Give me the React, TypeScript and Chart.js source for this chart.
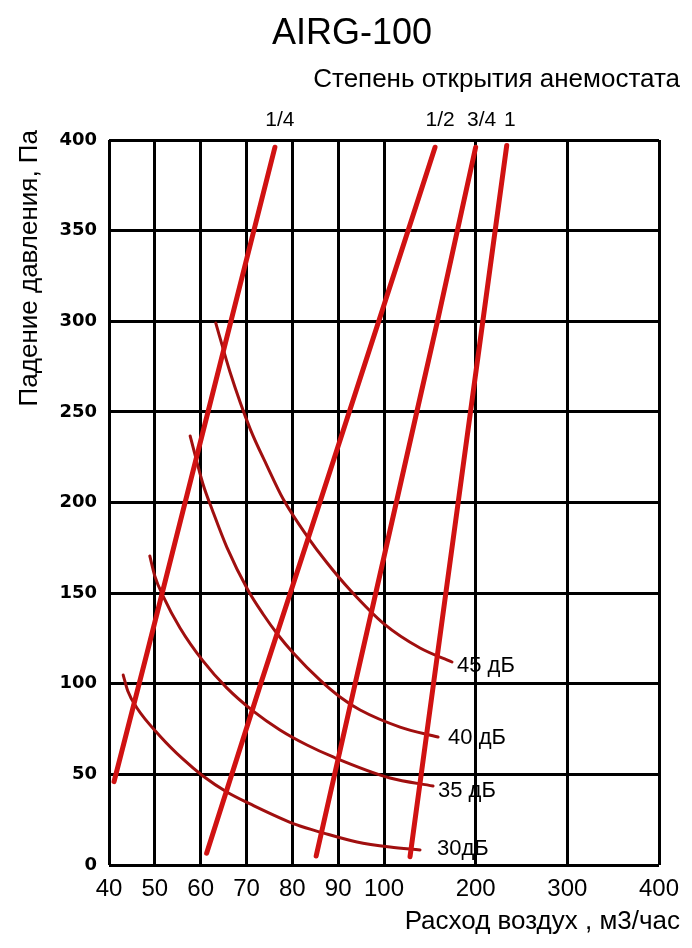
import React, { useEffect, useRef } from 'react';
import { Chart, LinearScale, registerables } from 'chart.js';

// ---------- data ----------
const TITLE = 'AIRG-100';
const SUBTITLE = 'Степень открытия анемостата';
const X_TITLE = 'Расход воздух , м3/час';
const Y_TITLE = 'Падение давления, Па';

const X_TICK_VALUES = [40, 50, 60, 70, 80, 90, 100, 200, 300, 400];
const Y_MIN = 0;
const Y_MAX = 400;
const Y_STEP = 50;

const OPENING_LABELS = ['1/4', '1/2', '3/4', '1'];
const Q_OPEN_QUARTER = [41.1, 48.5, 61.6, 76.2];
const P_OPEN_QUARTER = [46, 119, 250, 396];
const Q_OPEN_HALF = [61.3, 73.1, 86.0, 100, 155.7];
const P_OPEN_HALF = [6.5, 100, 200, 309, 396];
const Q_OPEN_3Q = [85.2, 93.7, 100, 135.8, 158.3, 200];
const P_OPEN_3Q = [5, 100, 170, 250, 300, 396];
const Q_OPEN_FULL = [128.4, 154.0, 180.9, 233.9];
const P_OPEN_FULL = [4.6, 100, 200, 397];

const DB_LABELS = ['45 дБ', '40 дБ', '35 дБ', '30дБ'];
const Q_DB45 = [63.3, 66.4, 70.8, 74.5, 78.0, 83.2, 87.6, 92.6, 100, 139.3, 174.2];
const P_DB45 = [299.0, 272.0, 240.6, 220.1, 201.9, 181.5, 166.6, 151.7, 133.0, 119.7, 112.0];
const Q_DB40 = [57.7, 60.5, 62.7, 65.7, 70.3, 73.6, 76.9, 80.2, 86.0, 90.4, 94.8, 117.5, 159.0];
const P_DB40 = [236.7, 210.2, 194.8, 175.4, 151.7, 138.5, 126.9, 117.0, 102.1, 92.7, 85.5, 76.1, 70.6];
const Q_DB35 = [48.9, 50.0, 51.8, 55.5, 60.5, 65.7, 71.4, 77.3, 83.2, 88.9, 106.6, 153.5];
const P_DB35 = [170.5, 159.4, 148.4, 130.8, 112.6, 97.7, 85.0, 74.5, 66.2, 59.6, 48.0, 43.6];
const Q_DB30 = [43.1, 44.1, 46.1, 51.1, 56.1, 60.5, 65.7, 70.8, 81.0, 86.7, 94.1, 106.6, 139.3];
const P_DB30 = [104.8, 96.0, 86.6, 71.2, 58.5, 49.1, 40.3, 33.7, 22.1, 17.7, 12.7, 9.9, 8.3];

// ---------- styles ----------
const OPEN_COLOR = '#d01212';
const DB_COLOR = '#a00f0f';
const FONT = '"Liberation Sans", Arial, sans-serif';
const DB_LABEL_DX = [5, 10, 5, 17];
const DB_LABEL_DY = [4, 1, 5, -1];
const OPEN_LABEL_DX = [5, 5, 6, 3];

// ---------- piecewise axis: 40..100 step 10 = 1 unit, 100..400 step 50 = 1 unit ----------
function toUnit(v: number): number {
  if (v <= 100) return (v - 40) / 10;
  return 6 + (v - 100) / 50;
}
function fromUnit(u: number): number {
  if (u <= 6) return 40 + u * 10;
  return 100 + (u - 6) * 50;
}

class SegmentScale extends LinearScale {
  static id = 'segment';
  determineDataLimits() {
    const o: any = this.options;
    this.min = o.min;
    this.max = o.max;
  }
  buildTicks() {
    return X_TICK_VALUES.map((value) => ({ value }));
  }
  getPixelForValue(value: number) {
    const total = toUnit(this.max) - toUnit(this.min);
    return this.getPixelForDecimal((toUnit(value) - toUnit(this.min)) / total);
  }
  getValueForPixel(pixel: number) {
    const total = toUnit(this.max) - toUnit(this.min);
    return fromUnit(toUnit(this.min) + this.getDecimalForPixel(pixel) * total);
  }
}

Chart.register(...registerables, SegmentScale as any);

function zip(q: number[], p: number[]) {
  return q.map((x, i) => ({ x, y: p[i] }));
}

const OPEN_SERIES = [
  zip(Q_OPEN_QUARTER, P_OPEN_QUARTER),
  zip(Q_OPEN_HALF, P_OPEN_HALF),
  zip(Q_OPEN_3Q, P_OPEN_3Q),
  zip(Q_OPEN_FULL, P_OPEN_FULL),
];
const DB_SERIES = [zip(Q_DB45, P_DB45), zip(Q_DB40, P_DB40), zip(Q_DB35, P_DB35), zip(Q_DB30, P_DB30)];

const textPlugin = {
  id: 'textPlugin',
  afterDraw(chart: any) {
    const ctx = chart.ctx as CanvasRenderingContext2D;
    const xs = chart.scales.x;
    const ys = chart.scales.y;
    ctx.save();
    ctx.fillStyle = '#000';
    ctx.textBaseline = 'alphabetic';

    ctx.font = `36px ${FONT}`;
    ctx.textAlign = 'center';
    ctx.fillText(TITLE, 352, 44);

    ctx.font = `26px ${FONT}`;
    ctx.textAlign = 'right';
    ctx.fillText(SUBTITLE, 680, 87);

    ctx.font = `21px ${FONT}`;
    ctx.textAlign = 'center';
    OPEN_SERIES.forEach((s, i) => {
      const top = s[s.length - 1];
      ctx.fillText(OPENING_LABELS[i], xs.getPixelForValue(top.x) + OPEN_LABEL_DX[i], 126);
    });

    ctx.font = `22px ${FONT}`;
    ctx.textAlign = 'left';
    ctx.textBaseline = 'middle';
    DB_SERIES.forEach((s, i) => {
      const end = s[s.length - 1];
      ctx.fillText(DB_LABELS[i], xs.getPixelForValue(end.x) + DB_LABEL_DX[i], ys.getPixelForValue(end.y) + DB_LABEL_DY[i]);
    });

    ctx.textBaseline = 'alphabetic';
    ctx.font = `26px ${FONT}`;
    ctx.textAlign = 'right';
    ctx.fillText(X_TITLE, 680, 929);

    ctx.translate(37, 130);
    ctx.rotate(-Math.PI / 2);
    ctx.textAlign = 'right';
    ctx.fillText(Y_TITLE, 0, 0);
    ctx.restore();
  },
};

export default function App() {
  const ref = useRef<HTMLCanvasElement>(null);
  useEffect(() => {
    if (!ref.current) return;
    const datasets: any[] = [];
    OPEN_SERIES.forEach((data, i) => {
      datasets.push({
        label: OPENING_LABELS[i],
        data,
        borderColor: OPEN_COLOR,
        borderWidth: 5,
        borderCapStyle: 'round',
        borderJoinStyle: 'round',
        pointRadius: 0,
        tension: 0,
        fill: false,
      });
    });
    DB_SERIES.forEach((data, i) => {
      datasets.push({
        label: DB_LABELS[i],
        data,
        borderColor: DB_COLOR,
        borderWidth: 3,
        borderCapStyle: 'round',
        pointRadius: 0,
        cubicInterpolationMode: 'monotone',
        fill: false,
      });
    });
    const chart = new Chart(ref.current, {
      type: 'line',
      data: { datasets },
      options: {
        responsive: false,
        animation: false,
        events: [],
        layout: { padding: { left: 0, top: 140, right: 33, bottom: 0 } },
        plugins: { legend: { display: false }, tooltip: { enabled: false }, title: { display: false } },
        scales: {
          x: {
            type: 'segment' as any,
            min: 40,
            max: 400,
            position: 'bottom',
            afterFit: (s: any) => {
              s.height = 83;
            },
            grid: { color: '#000', lineWidth: 3, drawTicks: false },
            border: { display: false },
            ticks: {
              autoSkip: false,
              maxRotation: 0,
              padding: 10,
              color: '#000',
              font: { family: FONT, size: 24 },
              callback: (v: any) => String(v),
            },
          } as any,
          y: {
            type: 'linear',
            min: Y_MIN,
            max: Y_MAX,
            afterFit: (s: any) => {
              s.width = 109;
            },
            grid: { color: '#000', lineWidth: 3, drawTicks: false },
            border: { display: false },
            ticks: {
              stepSize: Y_STEP,
              padding: 12,
              color: '#000',
              font: { family: '"DejaVu Sans", sans-serif', size: 18, weight: 'bold' },
            },
          },
        },
      },
      plugins: [textPlugin],
    });
    return () => chart.destroy();
  }, []);
  return (
    <div style={{ position: 'fixed', left: 0, top: 0, width: 692, height: 948, background: '#fff' }}>
      <canvas ref={ref} width={692} height={948} style={{ display: 'block' }} />
    </div>
  );
}
